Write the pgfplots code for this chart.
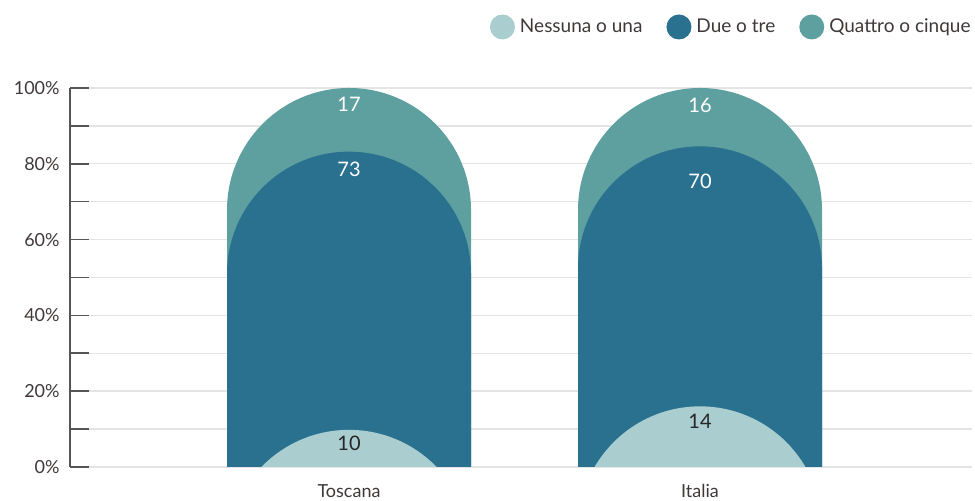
\documentclass[border=0pt]{standalone}
\usepackage{pgfplots}
\pgfplotsset{compat=1.18}
\usepackage{pgfplotstable}
\usepackage{fontspec}
\setmainfont{Lato}
\definecolor{cteal}{HTML}{5E9FA0}
\definecolor{cdark}{HTML}{29718F}
\definecolor{clight}{HTML}{AACDD0}
\definecolor{gridgray}{HTML}{E4E4E4}
\definecolor{axisgray}{HTML}{555555}
\definecolor{textgray}{HTML}{403838}
\pgfdeclareplotmark{nothing}{}

% top = height of the shape, ly = height of the label, lab = printed value
\pgfplotstableread{
x top ly lab
0 100 95.8 17
1 100 95.5 16
}\tquattro
\pgfplotstableread{
x top ly lab
0 83.2 78.6 73
1 84.6 75.5 70
}\tdue
\pgfplotstableread{
x top ly lab
0 9.8 6.3 10
1 16.0 12.0 14
}\tnessuna

\pgfplotsset{pill/.style={
  scatter, only marks, mark=nothing,
  point meta=explicit symbolic,
  scatter/@pre marker code/.code={%
    \pgfmathsetmacro\pillH{\pgfplotspointmeta*1.895}%
    \pgfscope
    \pgfpathrectangle{\pgfpoint{-61pt}{-\pillH pt}}{\pgfpoint{122pt}{\pillH pt+1pt}}%
    \pgfusepath{clip}%
    \fill[fill=#1,draw=none] (-61pt,{-\pillH pt-61pt}) -- (-61pt,-61pt) arc[start angle=180,end angle=0,radius=61pt] -- (61pt,{-\pillH pt-61pt}) -- cycle;
    \endpgfscope
    \begin{scope}
  },
  scatter/@post marker code/.code={\end{scope}},
  legend image code/.code={\fill[fill=#1,draw=none] (6.25pt,0pt) circle (6.25pt);},
},
lbl/.style={only marks, mark=nothing, forget plot, point meta=explicit,
  nodes near coords,
  every node near coord/.append style={text=#1}}
}

\begin{document}
\begin{tikzpicture}
\useasboundingbox (-35pt,-17pt) rectangle (452.5pt,233.5pt);
\begin{axis}[
  at={(0,0)}, anchor=south west,
  scale only axis,
  x=175.5pt, y=1.895pt,
  xmin=-0.7949, xmax=1.7749, ymin=0, ymax=100,
  axis lines*=left,
  x axis line style={draw=none},
  y axis line style={draw=axisgray, line width=0.8pt},
  xtick={0,1}, xticklabels={Toscana,Italia},
  xtick style={draw=none},
  xticklabel style={anchor=base, inner sep=0pt, yshift=-15.5pt, font=\fontsize{9}{9}\selectfont, text=textgray},
  ytick={0,20,...,100}, minor ytick={10,30,50,70,90},
  ymajorgrids, yminorgrids,
  major grid style={draw=gridgray, line width=0.7pt},
  minor grid style={draw=gridgray, line width=0.7pt},
  ytick align=inside, tick pos=left,
  major tick length=9.5pt, minor tick length=9.5pt,
  ytick style={draw=axisgray, line width=0.8pt},
  minor tick style={draw=axisgray, line width=0.8pt},
  yticklabel={\pgfmathprintnumber{\tick}\%},
  yticklabel style={anchor=east, inner sep=0pt, xshift=-5pt, font=\fontsize{9}{9}\selectfont, text=textgray},
  /pgf/number format/assume math mode=true,
  every node near coord/.append style={anchor=center, inner sep=0pt, font=\fontsize{10}{10}\selectfont},
  legend style={at={(1.001,1)}, anchor=east, yshift=30.5pt, draw=none, fill=none,
    legend columns=-1, font=\fontsize{9.5}{9.5}\selectfont, text=textgray,
    inner sep=0pt, nodes={inner sep=1pt},
    /tikz/every even column/.append style={column sep=11pt},
    /tikz/every odd column/.append style={column sep=1.5pt}},
  reverse legend,
]
\addplot[pill=cteal] table[x=x,y=top,meta=top] {\tquattro};
\addlegendentry{Quattro o cinque}
\addplot[pill=cdark] table[x=x,y=top,meta=top] {\tdue};
\addlegendentry{Due o tre}
\addplot[pill=clight] table[x=x,y=top,meta=top] {\tnessuna};
\addlegendentry{Nessuna o una}
\addplot[lbl=white] table[x=x,y=ly,meta=lab] {\tquattro};
\addplot[lbl=white] table[x=x,y=ly,meta=lab] {\tdue};
\addplot[lbl=black!85] table[x=x,y=ly,meta=lab] {\tnessuna};
\end{axis}
\end{tikzpicture}
\end{document}
